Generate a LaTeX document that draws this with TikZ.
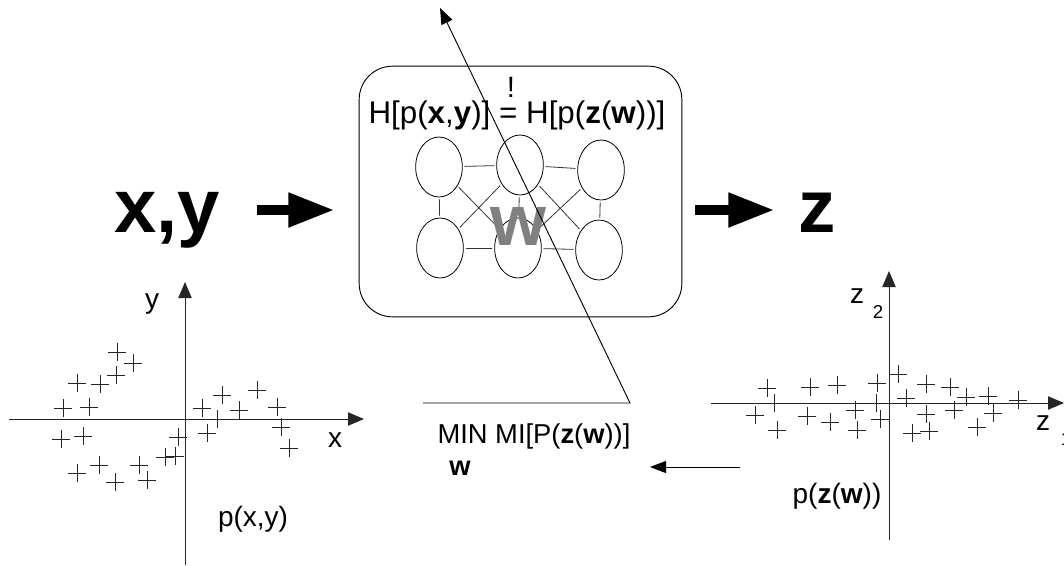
\documentclass[tikz,border=0pt]{standalone}
\usepackage{fontspec}
\setmainfont{Liberation Sans}
\usetikzlibrary{shapes.geometric,arrows.meta}
\tikzset{
 neuron/.style={draw, ellipse, minimum width=35pt, minimum height=45pt, inner sep=0pt, line width=0.6pt},
 link/.style={draw=black!80, line width=0.6pt, shorten <=1.5pt, shorten >=1.5pt},
 axisline/.style={line width=0.7pt, draw=black!85, -{Triangle[length=12pt,width=10pt]}},
 plusmark/.style={line width=0.6pt, draw=black!85},
 bigarrow/.style={line width=8pt, -{Triangle[length=35pt,width=24pt]}},
 lbl/.style={font=\fontsize{21}{24}\selectfont, anchor=base, inner sep=0pt},
 biglbl/.style={font=\fontsize{57}{60}\selectfont\bfseries, anchor=base, inner sep=0pt},
}
\begin{document}
\begin{tikzpicture}[x=0.75pt,y=-0.75pt]
\useasboundingbox (0,0) rectangle (1064,565);

% ---- central box with network ----
\node[draw, rounded corners=25pt, minimum width=242pt, minimum height=188pt, line width=0.7pt] (box) at (520.5,191.5) {};
\node[neuron] (tl) at (439,167) {};
\node[neuron] (tm) at (520,165) {};
\node[neuron] (tr) at (601,170) {};
\node[neuron] (bl) at (440,248) {};
\node[neuron] (bm) at (518,248) {};
\node[neuron] (br) at (599,250) {};
\draw[link] (tl) -- (tm);
\draw[link] (tm) -- (tr);
\draw[link] (bl) -- (bm);
\draw[link] (bm) -- (br);
\draw[link] (tl) -- (bl);
\draw[link] (tm) -- (bm);
\draw[link] (tr) -- (br);
\draw[link] (tl) -- (bm);
\draw[link] (bl) -- (tm);
\draw[link] (tm) -- (br);
\draw[link] (bm) -- (tr);
\node[anchor=base, inner sep=0pt, text=black!50, font=\fontsize{54}{56}\selectfont\bfseries] (wbig) at (518,245) {w};

\node[anchor=base, inner sep=0pt, font=\fontsize{23.5}{26}\selectfont] (heq) at (517,123) {H[p(\textbf{x},\textbf{y})] = H[p(\textbf{z}(\textbf{w}))]};
\node[anchor=base, inner sep=0pt, font=\fontsize{22}{24}\selectfont] (bang) at (511,97) {!};

% ---- big input/output ----
\node[biglbl] (xy) at (167,232) {x,y};
\node[biglbl, font=\fontsize{56}{58}\selectfont\bfseries] (zout) at (817,232) {z};
\coordinate (a1s) at (257,210);
\coordinate (a1e) at (335,210);
\coordinate (a2s) at (695,210);
\coordinate (a2e) at (775,210);
\draw[bigarrow] (a1s) -- (a1e);
\draw[bigarrow] (a2s) -- (a2e);

% ---- left plot ----
\coordinate (lx0) at (9,419);
\coordinate (lx1) at (364,419);
\coordinate (ly0) at (185,565);
\coordinate (ly1) at (185,282);
\draw[axisline] (lx0) -- (lx1);
\draw[axisline] (ly0) -- (ly1);
\foreach \p in {(117,352),(133,363),(77,383),(100,384),(116,375),(63,408),(89,407),(61,439),(83,436),(77,473),(99,465),(115,482),(139,465),(147,480),(178,437),(165,457),(175,456),(202,408),(222,395),(217,419),(207,433),(239,410),(257,390),(277,407),(281,427),(289,448)}
  \draw[plusmark] \p +(-9,0) -- +(9,0) \p +(0,-9) -- +(0,9);
\node[lbl] (ylab) at (152,308) {y};
\node[lbl] (xlab) at (335,447) {x};
\node[lbl] (pxy) at (253,526) {p(x,y)};

% ---- right plot ----
\coordinate (rx0) at (711,403);
\coordinate (rx1) at (1064,403);
\coordinate (ry0) at (889,540);
\coordinate (ry1) at (889,271);
\draw[axisline] (rx0) -- (rx1);
\draw[axisline] (ry0) -- (ry1);
\foreach \p in {(767,388),(774,403),(755,415),(777,430),(810,387),(837,385),(807,416),(830,422),(855,410),(857,430),(877,383),(876,403),(880,419),(898,374),(906,398),(926,384),(950,387),(966,397),(988,396),(1018,400),(926,414),(912,433),(929,431),(954,410),(977,427),(993,413)}
  \draw[plusmark] \p +(-9,0) -- +(9,0) \p +(0,-9) -- +(0,9);
\node[lbl] (z2lab) at (857,303) {z};
\node[lbl, font=\fontsize{14}{16}\selectfont] (z2sub) at (878,318) {2};
\node[lbl] (z1lab) at (1043,430) {z};
\node[lbl, font=\fontsize{14}{16}\selectfont] (z1sub) at (1066,445) {1};
\node[lbl] (pzw) at (837,503) {p(\textbf{z}(\textbf{w}))};

% ---- objective ----
\node[anchor=base, inner sep=0pt, font=\fontsize{20.5}{22}\selectfont] (minmi) at (534,443) {MIN MI[P(\textbf{z}(\textbf{w}))]};
\node[anchor=base, inner sep=0pt, font=\fontsize{20.5}{22}\selectfont\bfseries] (minw) at (460,475) {w};
\coordinate (ml) at (423,403);
\coordinate (mr) at (630,403);
\coordinate (tip) at (440,8);
\draw[line width=0.7pt, -{Triangle[length=12pt,width=9pt]}] (ml) -- (mr) -- (tip);
\coordinate (fb0) at (740,467);
\coordinate (fb1) at (650,467);
\draw[line width=0.7pt, -{Triangle[length=12pt,width=9pt]}] (fb0) -- (fb1);
\end{tikzpicture}
\end{document}
